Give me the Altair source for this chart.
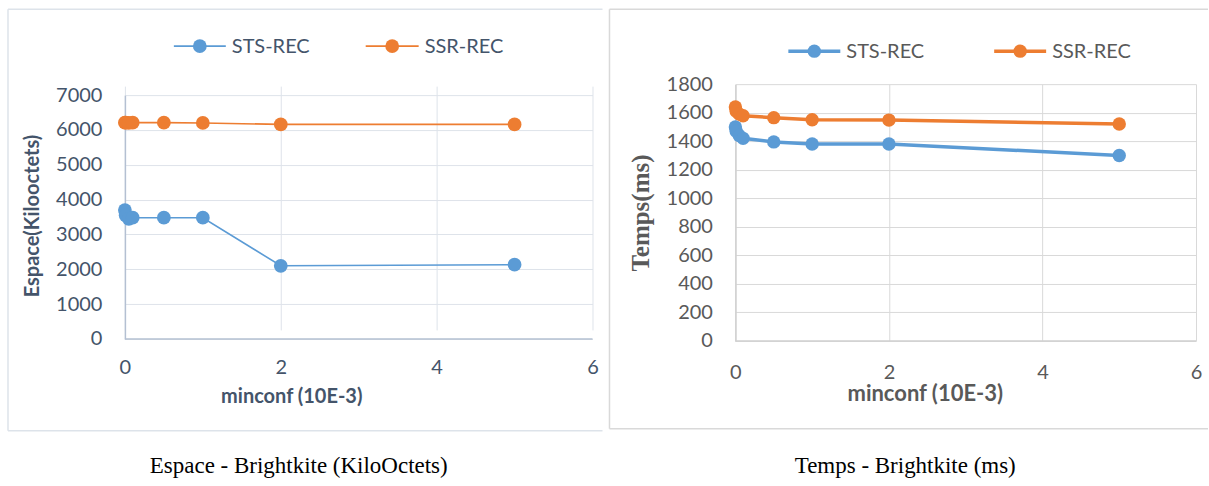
import altair as alt
import pandas as pd

# ---- data ----
minconf = [0, 0.01, 0.05, 0.1, 0.5, 1, 2, 5]
espace_sts = [3700, 3550, 3450, 3480, 3480, 3480, 2100, 2130]
espace_ssr = [6210, 6210, 6200, 6210, 6210, 6200, 6160, 6160]
temps_sts = [1500, 1470, 1440, 1420, 1395, 1380, 1380, 1300]
temps_ssr = [1640, 1610, 1590, 1578, 1565, 1550, 1548, 1520]
series_names = ["STS-REC", "SSR-REC"]
x_ticks = [0, 2, 4, 6]
esp_ticks = [0, 1000, 2000, 3000, 4000, 5000, 6000, 7000]
tmp_ticks = [0, 200, 400, 600, 800, 1000, 1200, 1400, 1600, 1800]

BLUE = "#5B9BD5"
ORANGE = "#ED7D31"
FONT = "Lato"
SERIF = "Liberation Serif"

ONE = alt.Data(values=[{"k": 0}])


def long_df(sts, ssr):
    rows = []
    for x, v in zip(minconf, sts):
        rows.append({"minconf": x, "val": v, "serie": series_names[0]})
    for x, v in zip(minconf, ssr):
        rows.append({"minconf": x, "val": v, "serie": series_names[1]})
    return pd.DataFrame(rows)


def rule(x, x2, y, y2, color, width):
    return alt.Chart(ONE).mark_rule(color=color, strokeWidth=width).encode(
        x=alt.value(x), x2=alt.value(x2), y=alt.value(y), y2=alt.value(y2))


def anchor(x, y):
    return alt.Chart(ONE).mark_rect(opacity=0).encode(
        x=alt.value(x), x2=alt.value(x + 1), y=alt.value(y), y2=alt.value(y + 1))


def text(x, y, s, size, color, font, weight="normal", angle=0, align="center"):
    return alt.Chart(ONE).mark_text(
        fontSize=size, color=color, font=font, fontWeight=weight, angle=angle,
        align=align, baseline="middle").encode(
        x=alt.value(x), y=alt.value(y), text=alt.value(s))


def legend_item(x0, x1, y, color, label, lw, psize, tcolor):
    xm = (x0 + x1) / 2
    return [
        rule(x0, x1, y, y, color, lw),
        alt.Chart(ONE).mark_point(filled=True, opacity=1, color=color, size=psize,
                                  shape="circle").encode(x=alt.value(xm), y=alt.value(y)),
        text(x1 + 6, y + 1, label, 20, tcolor, FONT, align="left"),
    ]


def panel(sts, ssr, ticks, ymax, yrange, W, H, grid_c, dom_c, lab_c, lw, psize,
          xlab_pad, border, border_c, legend_y, leg_pos, xtitle, ytitle, caption,
          ytitle_font, ytitle_size, ytitle_color, anchors):
    df = long_df(sts, ssr)
    xaxis = alt.Axis(values=x_ticks, format="d", grid=True, gridColor=grid_c,
                     gridWidth=1, domain=False, ticks=False, labelFlush=False,
                     labelPadding=xlab_pad, labelFontSize=20, labelFont=FONT,
                     labelColor=lab_c, labelBaseline="top", title=None)
    xs = alt.X("minconf:Q", scale=alt.Scale(domain=[0, 6], nice=False), axis=xaxis)
    if yrange is not None:
        yscale = alt.Scale(domain=[0, ymax], nice=False, zero=False, range=yrange)
    else:
        yscale = alt.Scale(domain=[0, ymax], nice=False, zero=False)
    yaxis = alt.Axis(values=ticks, format="d", grid=True, gridColor=grid_c,
                     gridWidth=1, domain=True, domainColor=dom_c, labelFlush=False,
                     domainWidth=1.5, ticks=False, labelPadding=23,
                     labelFontSize=20, labelFont=FONT, labelColor=lab_c,
                     title=None)
    ys = alt.Y("val:Q", scale=yscale, axis=yaxis)
    col = alt.Color("serie:N", scale=alt.Scale(domain=series_names, range=[BLUE, ORANGE]),
                    legend=None)
    base = alt.Chart(df).encode(x=xs, y=ys, color=col)
    zero_line = alt.Chart(ONE).transform_calculate(val="0").mark_rule(
        color=dom_c, strokeWidth=1.5).encode(
        y=alt.Y("val:Q", scale=yscale, axis=yaxis),
        x=alt.value(0), x2=alt.value(W))
    lines = base.mark_line(strokeWidth=lw)
    pts = base.mark_point(filled=True, opacity=1, size=psize, shape="circle")

    bx0, bx1, by0, by1 = border
    layers = [
        lines, zero_line, pts,
        rule(bx0, bx0, by0, by1, border_c, 1.5),
        rule(bx0, bx1, by0, by0, border_c, 1.5),
        rule(bx0, bx1, by1, by1, border_c, 1.5),
    ]
    (a0, a1), (b0, b1) = leg_pos
    layers += legend_item(a0, a1, legend_y, BLUE, series_names[0], lw, psize, lab_c)
    layers += legend_item(b0, b1, legend_y, ORANGE, series_names[1], lw, psize, lab_c)
    tx, ty, ttext, tsize = xtitle
    layers.append(text(tx, ty, ttext, tsize, lab_c, FONT, weight="bold"))
    yx, yy, ytext = ytitle
    layers.append(text(yx, yy, ytext, ytitle_size, ytitle_color, ytitle_font,
                       weight="bold", angle=270))
    cx, cy, ctext = caption
    layers.append(text(cx, cy, ctext, 23, "#000000", SERIF))
    for ax, ay in anchors:
        layers.append(anchor(ax, ay))
    return alt.layer(*layers).properties(width=W, height=H)


left = panel(
    espace_sts, espace_ssr, esp_ticks, 7000, [255, 11], 468, 257,
    grid_c="#DEE3EA", dom_c="#B4C0D2", lab_c="#44546A", lw=1.6, psize=190,
    xlab_pad=17, border=(-117, 478, -75, 347), border_c="#DDE3EA",
    legend_y=-38, leg_pos=((49, 101), (241, 294)),
    xtitle=(167, 313, "minconf (10E-3)", 20),
    ytitle=(-92, 132, "Espace(Kilooctets)"),
    caption=(174, 382, "Espace - Brightkite (KiloOctets)"),
    ytitle_font=FONT, ytitle_size=20, ytitle_color="#44546A",
    anchors=[(-125, -84)])

right = panel(
    temps_sts, temps_ssr, tmp_ticks, 1800, None, 461, 257,
    grid_c="#D9D9D9", dom_c="#D0D0D0", lab_c="#595959", lw=3.5, psize=180,
    xlab_pad=22, border=(-126, 473, -75, 345), border_c="#D9D9D9",
    legend_y=-33, leg_pos=((53, 105), (259, 311)),
    xtitle=(190, 310, "minconf (10E-3)", 22),
    ytitle=(-94, 129, "Temps(ms)"),
    caption=(170, 382, "Temps - Brightkite (ms)"),
    ytitle_font=SERIF, ytitle_size=25, ytitle_color="#595959",
    anchors=[(472, 401)])

chart = alt.hconcat(left, right, spacing=143, bounds="flush").properties(
    autosize=alt.AutoSizeParams(type="pad"),
    padding=0,
    background="white",
).configure_view(stroke=None)

chart.save("out.html", embed_options={"renderer": "svg", "actions": False})
